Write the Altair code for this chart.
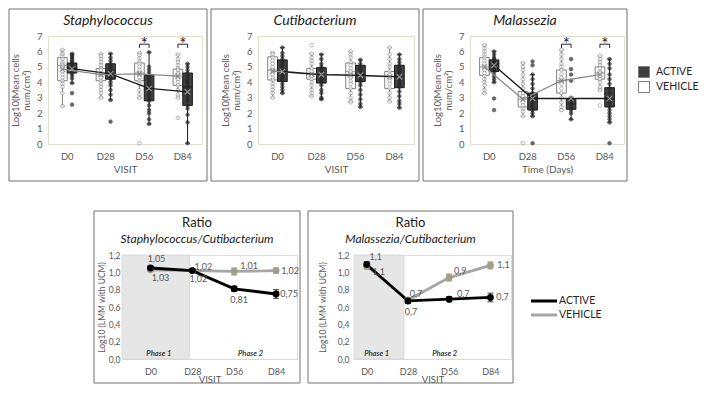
import json
import altair as alt
import pandas as pd

VISITS = ["D0", "D28", "D56", "D84"]
GROUPS = ["ACTIVE", "VEHICLE"]

# Box statistics per visit (D0, D28, D56, D84): (min, q1, median, q3, max, mean)
STAPH_VEHICLE_BOX = [(2.45, 4.1, 5.1, 5.6, 6.1, 4.85), (3.0, 4.1, 4.5, 4.9, 5.85, 4.5),
                     (3.0, 4.1, 4.6, 5.25, 5.9, 4.55), (3.0, 3.8, 4.4, 4.85, 5.8, 4.4)]
STAPH_ACTIVE_BOX = [(3.95, 4.6, 4.9, 5.25, 5.85, 4.88), (2.85, 4.2, 4.55, 5.2, 5.85, 4.55),
                    (1.3, 2.8, 3.6, 4.45, 5.95, 3.6), (0.05, 2.5, 3.7, 4.6, 5.2, 3.38)]
CUTI_VEHICLE_BOX = [(3.0, 4.15, 4.8, 5.65, 5.9, 4.72), (3.1, 4.2, 4.5, 4.9, 5.85, 4.52),
                    (2.7, 3.6, 4.7, 5.25, 6.0, 4.46), (2.75, 3.6, 4.4, 4.7, 6.25, 4.36)]
CUTI_ACTIVE_BOX = [(3.3, 4.05, 4.7, 5.45, 6.25, 4.7), (2.9, 3.95, 4.5, 4.95, 5.8, 4.5),
                   (2.4, 4.05, 4.5, 5.1, 5.45, 4.45), (2.35, 3.65, 4.4, 5.1, 5.8, 4.35)]
MALA_VEHICLE_BOX = [(3.3, 4.45, 5.0, 5.6, 6.4, 5.0), (1.8, 2.4, 2.9, 3.4, 5.25, 2.9),
                    (2.2, 3.3, 4.1, 4.8, 6.1, 4.1), (3.5, 4.2, 4.6, 5.0, 5.7, 4.5)]
MALA_ACTIVE_BOX = [(4.0, 4.7, 5.2, 5.45, 6.0, 5.1), (1.8, 2.2, 3.0, 3.3, 4.5, 2.95),
                   (1.6, 2.25, 2.6, 2.9, 3.0, 2.95), (1.4, 2.4, 2.9, 3.65, 5.5, 2.95)]

# Individual subject values per visit
STAPH_VEHICLE_POINTS = [
    [6.1, 5.9, 5.8, 5.65, 5.5, 5.3, 5.2, 5.1, 5.0, 4.9, 4.7, 4.5, 4.3, 4.1, 3.9, 3.7, 3.3, 2.45],
    [5.85, 5.7, 5.5, 5.3, 5.1, 4.9, 4.8, 4.6, 4.5, 4.3, 4.1, 3.9, 3.7, 3.5, 3.3, 3.0],
    [5.9, 5.75, 5.55, 5.35, 5.2, 5.0, 4.8, 4.6, 4.5, 4.3, 4.1, 3.9, 3.5, 3.2, 3.0, 0.05],
    [5.8, 5.5, 5.3, 5.1, 4.9, 4.8, 4.6, 4.5, 4.3, 4.2, 4.0, 3.8, 3.5, 3.2, 3.0, 1.7],
]
STAPH_ACTIVE_POINTS = [
    [5.85, 5.75, 5.65, 5.55, 5.45, 5.35, 5.25, 5.1, 5.0, 4.9, 4.8, 4.7, 4.6, 4.45, 4.25, 3.95, 3.3, 2.55],
    [5.85, 5.6, 5.4, 5.2, 5.0, 4.8, 4.7, 4.55, 4.4, 4.2, 4.0, 3.8, 3.5, 3.2, 2.85, 1.45],
    [5.95, 5.0, 4.8, 4.6, 4.4, 4.2, 4.0, 3.8, 3.6, 3.4, 3.2, 3.0, 2.8, 2.5, 2.2, 2.0, 1.6, 1.3],
    [5.2, 5.0, 4.8, 4.6, 4.4, 4.2, 4.0, 3.8, 3.6, 3.4, 3.2, 3.0, 2.8, 2.5, 2.3, 1.9, 1.4, 0.05],
]
CUTI_VEHICLE_POINTS = [
    [5.9, 5.8, 5.6, 5.4, 5.2, 5.0, 4.8, 4.7, 4.5, 4.3, 4.15, 3.9, 3.7, 3.5, 3.3, 3.0],
    [6.4, 5.85, 5.6, 5.4, 5.2, 4.9, 4.7, 4.5, 4.4, 4.2, 4.0, 3.8, 3.5, 3.3, 3.1],
    [6.0, 5.8, 5.6, 5.3, 5.1, 4.9, 4.7, 4.5, 4.3, 4.1, 3.9, 3.6, 3.3, 3.0, 2.8, 2.7],
    [6.25, 5.8, 5.5, 5.2, 5.0, 4.7, 4.5, 4.3, 4.1, 3.9, 3.6, 3.3, 3.0, 2.75],
]
CUTI_ACTIVE_POINTS = [
    [6.25, 5.9, 5.7, 5.5, 5.3, 5.1, 4.9, 4.7, 4.5, 4.3, 4.1, 3.9, 3.7, 3.5, 3.3],
    [5.8, 5.5, 5.2, 5.0, 4.8, 4.6, 4.4, 4.2, 4.0, 3.8, 3.5, 3.3, 3.0, 2.9],
    [5.45, 5.2, 5.0, 4.8, 4.6, 4.4, 4.2, 4.0, 3.8, 3.5, 3.2, 2.9, 2.6, 2.4],
    [5.8, 5.5, 5.3, 5.1, 4.9, 4.7, 4.5, 4.3, 4.1, 3.9, 3.7, 3.4, 3.1, 2.8, 2.6, 2.35],
]
MALA_VEHICLE_POINTS = [
    [6.4, 6.2, 6.0, 5.8, 5.6, 5.4, 5.2, 5.0, 4.8, 4.6, 4.4, 4.2, 4.0, 3.8, 3.5, 3.3],
    [5.25, 5.0, 4.8, 4.5, 4.2, 3.9, 3.6, 3.3, 3.1, 2.9, 2.7, 2.5, 2.3, 2.1, 1.8, 0.05],
    [6.1, 5.8, 5.5, 5.2, 5.0, 4.8, 4.5, 4.3, 4.1, 3.9, 3.6, 3.3, 3.0, 2.7, 2.4, 2.2],
    [5.7, 5.5, 5.3, 5.1, 4.9, 4.7, 4.6, 4.4, 4.2, 4.0, 3.7, 3.5, 2.5],
]
MALA_ACTIVE_POINTS = [
    [6.0, 5.8, 5.6, 5.5, 5.4, 5.3, 5.2, 5.1, 5.0, 4.9, 4.8, 4.6, 4.4, 4.2, 4.0, 2.95, 2.2],
    [5.35, 5.1, 4.5, 4.2, 3.9, 3.6, 3.3, 3.1, 3.0, 2.8, 2.6, 2.4, 2.2, 2.0, 1.8, 0.05],
    [5.5, 4.85, 4.5, 4.1, 3.0, 2.8, 2.6, 2.4, 2.2, 2.0, 1.6],
    [5.5, 5.2, 4.9, 4.5, 4.2, 3.9, 3.6, 3.3, 3.0, 2.8, 2.6, 2.4, 2.2, 2.0, 1.8, 1.6, 1.4, 0.05],
]
STAPH_SIGNIFICANT = ["D56", "D84"]
MALA_SIGNIFICANT = ["D56", "D84"]

# Ratio panels (LMM estimates with error)
RATIO_SC_ACTIVE = [1.05, 1.02, 0.81, 0.75]
RATIO_SC_ACTIVE_ERR = [0.02, 0.02, 0.03, 0.05]
RATIO_SC_VEHICLE = [1.03, 1.02, 1.01, 1.02]
RATIO_SC_VEHICLE_ERR = [0.02, 0.02, 0.04, 0.03]
RATIO_MC_ACTIVE = [1.09, 0.67, 0.69, 0.71]
RATIO_MC_ACTIVE_ERR = [0.03, 0.03, 0.03, 0.05]
RATIO_MC_VEHICLE = [1.07, 0.68, 0.94, 1.08]
RATIO_MC_VEHICLE_ERR = [0.03, 0.02, 0.04, 0.04]

FONT = "Lato"
TXT = "#595959"
DARK = "#262626"
FRAME_COLOR = "#707070"
PLOT_BORDER = "#e2dece"
ACT_FILL = "#404040"
ACT_LINE = "#1a1a1a"
VEH_LINE = "#808080"
TOP_H = 108
BOT_H = 104
X_SHAPE = "M-1,-1L1,1M-1,1L1,-1"
ONE = pd.DataFrame({"f": [0]})


def top_legend(show, x=0, y=0):
    if not show:
        return None
    return alt.Legend(title=None, orient="none", legendX=x, legendY=y, padding=0, symbolType="square",
                      symbolSize=121, symbolStrokeColor="#7f7f7f", symbolStrokeWidth=1, symbolOffset=0,
                      labelFont=FONT, labelFontSize=10.5, labelColor=DARK, rowPadding=-1, labelOffset=6)


def bottom_legend(show, x=0, y=0):
    if not show:
        return None
    return alt.Legend(title=None, orient="none", legendX=x, legendY=y, padding=0, symbolType="M-2,0H2",
                      symbolSize=169, symbolStrokeWidth=3, symbolOffset=0, labelFont=FONT, labelFontSize=10.5,
                      labelColor=DARK, rowPadding=-3, labelOffset=7)


def cond(active_val, vehicle_val):
    return alt.condition(alt.datum.group == "ACTIVE", alt.value(active_val), alt.value(vehicle_val))


def frame_layer(x0, x1, y0, y1):
    return alt.Chart(ONE).mark_rect(
        fill="transparent", stroke=FRAME_COLOR, strokeWidth=1
    ).encode(x=alt.value(x0), x2=alt.value(x1), y=alt.value(y0), y2=alt.value(y1))


def title_layer(text, cx, cy, size, italic):
    return alt.Chart(ONE).mark_text(
        text=text, fontSize=size, fontStyle="italic" if italic else "normal", font=FONT, color="#1a1a1a",
        align="center", baseline="middle"
    ).encode(x=alt.value(cx), y=alt.value(cy))


def box_table(active, vehicle):
    rows = []
    for group, stats in (("VEHICLE", vehicle), ("ACTIVE", active)):
        for visit, (lo, q1, med, q3, hi, mean) in zip(VISITS, stats):
            rows.append({"visit": visit, "group": group, "lo": lo, "q1": q1, "med": med,
                         "q3": q3, "hi": hi, "mean": mean})
    return pd.DataFrame(rows)


def point_table(active, vehicle):
    rows = []
    for group, lists in (("VEHICLE", vehicle), ("ACTIVE", active)):
        for visit, values in zip(VISITS, lists):
            for v in values:
                rows.append({"visit": visit, "group": group, "value": v})
    return pd.DataFrame(rows)


def box_panel(title, active_box, vehicle_box, active_pts, vehicle_pts, sig_visits, x_title,
              width, frame_left, frame_right, legend):
    boxes = box_table(active_box, vehicle_box)
    pts = point_table(active_pts, vehicle_pts)
    x_axis = alt.Axis(title=x_title, labelAngle=0, ticks=False, domain=False, labelColor=TXT,
                      labelFontSize=9.5, labelPadding=7, titleColor=TXT, titleFontSize=10,
                      titleFontWeight="normal", titlePadding=4)
    x_enc = alt.X("visit:N", scale=alt.Scale(domain=VISITS, paddingInner=0, paddingOuter=0), axis=x_axis)
    xo = alt.XOffset("group:N", scale=alt.Scale(domain=["VEHICLE", "ACTIVE"], paddingInner=0, paddingOuter=1))
    y_scale = alt.Scale(domain=[0, 7], nice=False, zero=False)
    y_axis = alt.Axis(title=["Log10(Mean cells", "num/cm²)"], values=list(range(8)), ticks=False,
                      domain=False, grid=False, labelColor=TXT, labelFontSize=9.5, labelPadding=6,
                      titleColor=TXT, titleFontSize=9.5, titleFontWeight="normal", titlePadding=5,
                      titleLineHeight=10.5)

    def Y(field):
        return alt.Y(f"{field}:Q", scale=y_scale, axis=y_axis)

    b = alt.Chart(boxes)
    whisker = b.mark_rule(strokeWidth=1).encode(x=x_enc, xOffset=xo, y=Y("lo"), y2="hi",
                                                 stroke=cond(ACT_LINE, VEH_LINE))
    box = b.mark_bar(strokeWidth=1).encode(
        x=x_enc, xOffset=xo, y=Y("q1"), y2="q3",
        fill=alt.Fill("group:N", scale=alt.Scale(domain=GROUPS, range=[ACT_FILL, "#ffffff"]), legend=legend),
        stroke=cond(ACT_LINE, VEH_LINE))
    cap_lo = b.mark_tick(size=5, thickness=1).encode(x=x_enc, xOffset=xo, y=Y("lo"), color=cond(ACT_LINE, VEH_LINE))
    cap_hi = b.mark_tick(size=5, thickness=1).encode(x=x_enc, xOffset=xo, y=Y("hi"), color=cond(ACT_LINE, VEH_LINE))
    median = b.mark_tick(size=10, thickness=1.2).encode(x=x_enc, xOffset=xo, y=Y("med"), color=cond(ACT_LINE, VEH_LINE))
    points = alt.Chart(pts).mark_point(shape="circle", filled=True, size=13, strokeWidth=0.8).encode(
        x=x_enc, xOffset=xo, y=Y("value"), fill=cond(DARK, "#ffffff"), stroke=cond(DARK, "#7f7f7f"))
    mean_line = b.mark_line(strokeWidth=1.3).encode(x=x_enc, xOffset=xo, y=Y("mean"), detail="group:N",
                                                     stroke=cond(ACT_LINE, "#8c8c8c"))
    mean_pt = b.mark_point(shape=X_SHAPE, size=28, strokeWidth=1.2, filled=False).encode(
        x=x_enc, xOffset=xo, y=Y("mean"), stroke=cond("#bfbfbf", "#7f7f7f"))
    frame_w = frame_left + width + frame_right
    layers = [frame_layer(-frame_left, width + frame_right, -27, TOP_H + 37),
              title_layer(title, -frame_left + frame_w / 2, -15, 14, True),
              whisker, box, cap_lo, cap_hi, median, points, mean_line, mean_pt]
    if sig_visits:
        br_rows = []
        for v in sig_visits:
            for step, (g, yv) in enumerate([("VEHICLE", 6.23), ("VEHICLE", 6.47), ("ACTIVE", 6.47), ("ACTIVE", 6.23)]):
                br_rows.append({"visit": v, "group": g, "y": yv, "step": step})
        bracket = alt.Chart(pd.DataFrame(br_rows)).mark_line(color=DARK, stroke=DARK, strokeWidth=1).encode(
            x=x_enc, xOffset=xo, y=Y("y"), detail="visit:N", order="step:Q")
        star = alt.Chart(pd.DataFrame({"visit": sig_visits})).mark_text(
            text="*", fontSize=17, color=DARK, fill=DARK, baseline="alphabetic", font=FONT).encode(
            x=x_enc, y=alt.YDatum(6.1, type="quantitative", scale=y_scale, axis=y_axis))
        layers += [bracket, star]
    return alt.layer(*layers).properties(width=width, height=TOP_H)


def ratio_panel(subtitle, active, active_err, vehicle, vehicle_err, decimals, x_min, phase_end,
                phase_pos, width, frame_left, frame_right, y_label_pad, y_title_pad, placements, legend):
    rows = []
    for group, vals, errs in (("VEHICLE", vehicle, vehicle_err), ("ACTIVE", active, active_err)):
        for i, (visit, v, e) in enumerate(zip(VISITS, vals, errs)):
            rows.append({"idx": i, "visit": visit, "group": group, "value": v, "lo": v - e, "hi": v + e})
    df = pd.DataFrame(rows)
    x_scale = alt.Scale(domain=[x_min, 3.5], nice=False, zero=False)
    x_axis = alt.Axis(title="VISIT", values=list(range(len(VISITS))), labelExpr=f"{json.dumps(VISITS)}[datum.value]",
                      grid=False, ticks=False, domainColor="#d9d9d9", labelColor=TXT, labelFontSize=9,
                      labelPadding=8, titleColor=TXT, titleFontSize=9.5, titleFontWeight="normal",
                      titleY=23, titleBaseline="alphabetic")
    x_enc = alt.X("idx:Q", scale=x_scale, axis=x_axis)
    y_scale = alt.Scale(domain=[0, 1.2], nice=False, zero=False)
    y_axis = alt.Axis(title="Log10 (LMM with UCM)", values=[0, 0.2, 0.4, 0.6, 0.8, 1.0, 1.2],
                      labelExpr="replace(format(datum.value, '.1f'), '.', ',')", ticks=False, domain=False,
                      grid=False, labelColor=TXT, labelFontSize=8.5, labelPadding=y_label_pad, titleColor=TXT,
                      titleFontSize=8.5, titleFontWeight="normal", titlePadding=y_title_pad)

    def Y(field):
        return alt.Y(f"{field}:Q", scale=y_scale, axis=y_axis)

    shade = alt.Chart(ONE).mark_rect(fill="#e6e6e6", stroke="#d4d4d4", strokeWidth=0.8).encode(
        x=alt.XDatum(x_min, type="quantitative", scale=x_scale, axis=x_axis),
        x2=alt.X2Datum(phase_end), y=alt.value(0), y2=alt.value(BOT_H))
    phase_layers = []
    for name, pos in zip(["Phase 1", "Phase 2"], phase_pos):
        phase_layers.append(alt.Chart(ONE).mark_text(
            text=name, fontSize=7.5, fontStyle="italic", fontWeight="bold", color="#404040", font=FONT,
            baseline="middle").encode(x=alt.XDatum(pos, type="quantitative", scale=x_scale, axis=x_axis),
                                      y=alt.value(BOT_H - 5)))
    base = alt.Chart(df)
    line = base.mark_line(strokeWidth=2.8).encode(
        x=x_enc, y=Y("value"),
        stroke=alt.Stroke("group:N", scale=alt.Scale(domain=GROUPS, range=["#000000", "#a6a6a6"]),
                          legend=legend))
    line_v = line.transform_filter(alt.datum.group == "VEHICLE")
    line_a = line.transform_filter(alt.datum.group == "ACTIVE")
    err = base.mark_rule(strokeWidth=1).encode(x=x_enc, y=Y("lo"), y2="hi", stroke=cond("#000000", "#595959"))
    cap_lo = base.mark_tick(orient="horizontal", size=6, thickness=1).encode(x=x_enc, y=Y("lo"), color=cond("#000000", "#595959"))
    cap_hi = base.mark_tick(orient="horizontal", size=6, thickness=1).encode(x=x_enc, y=Y("hi"), color=cond("#000000", "#595959"))
    dots = base.mark_circle(size=48, opacity=1).encode(x=x_enc, y=Y("value"), fill=cond("#000000", "#a39e83"))
    fmt = f".{decimals}f"
    labels = []
    for (group, visit), (dx, dy) in placements.items():
        labels.append(base.transform_filter(
            (alt.datum.group == group) & (alt.datum.visit == visit)
        ).transform_calculate(
            label=f"replace(format(datum.value, '{fmt}'), '.', ',')"
        ).mark_text(fontSize=9, color=TXT, font=FONT, align="center", baseline="middle", dx=dx, dy=dy).encode(
            x=x_enc, y=Y("value"), text="label:N"))
    frame_w = frame_left + width + frame_right
    cx = -frame_left + frame_w / 2
    layers = [frame_layer(-frame_left, width + frame_right, -44, BOT_H + 24),
              title_layer("Ratio", cx, -32, 13, False),
              title_layer(subtitle, cx, -16, 12, True), shade] + phase_layers + \
             [line_v, line_a, err, cap_lo, cap_hi, dots] + labels
    return alt.layer(*layers).properties(width=width, height=BOT_H)


def spacer(width):
    return alt.Chart(ONE).mark_point(opacity=0).properties(
        width=width, height=10, view=alt.ViewBackground(stroke="transparent"))


p1 = box_panel("Staphylococcus", STAPH_ACTIVE_BOX, STAPH_VEHICLE_BOX, STAPH_ACTIVE_POINTS, STAPH_VEHICLE_POINTS,
               STAPH_SIGNIFICANT, "VISIT", 154, 39, 5, top_legend(False))
p2 = box_panel("Cutibacterium", CUTI_ACTIVE_BOX, CUTI_VEHICLE_BOX, CUTI_ACTIVE_POINTS, CUTI_VEHICLE_POINTS,
               [], "VISIT", 156, 47, 5, top_legend(False))
p3 = box_panel("Malassezia", MALA_ACTIVE_BOX, MALA_VEHICLE_BOX, MALA_ACTIVE_POINTS, MALA_VEHICLE_POINTS,
               MALA_SIGNIFICANT, "Time (Days)", 154, 47, 3, top_legend(True, 168, 30))

p4 = ratio_panel("Staphylococcus/Cutibacterium", RATIO_SC_ACTIVE, RATIO_SC_ACTIVE_ERR, RATIO_SC_VEHICLE,
                 RATIO_SC_VEHICLE_ERR, 2, -0.68, 0.93, [0.2, 2.39], 175, 28, 3, 2, 2,
                 {("ACTIVE", "D0"): (6, -9), ("VEHICLE", "D0"): (10, 8), ("ACTIVE", "D28"): (6, 8),
                  ("VEHICLE", "D28"): (11, -4), ("VEHICLE", "D56"): (15, -5), ("ACTIVE", "D56"): (5, 11),
                  ("VEHICLE", "D84"): (14, 0), ("ACTIVE", "D84"): (13, 0)}, bottom_legend(False))
p5 = ratio_panel("Malassezia/Cutibacterium", RATIO_MC_ACTIVE, RATIO_MC_ACTIVE_ERR, RATIO_MC_VEHICLE,
                 RATIO_MC_VEHICLE_ERR, 1, -0.31, 0.9, [0.24, 1.89], 157, 46, 2, 5, 10,
                 {("ACTIVE", "D0"): (9, -8), ("VEHICLE", "D0"): (12, 6), ("VEHICLE", "D28"): (8, -6),
                  ("ACTIVE", "D28"): (3, 11), ("VEHICLE", "D56"): (11, -7), ("ACTIVE", "D56"): (14, -5),
                  ("VEHICLE", "D84"): (13, 0), ("ACTIVE", "D84"): (12, 0)}, bottom_legend(True, 182, 38))

# bounds="flush": cells are laid out by their plot areas, spacing is the gap between plot areas
top = alt.hconcat(p1, p2, p3, spacing=56, bounds="flush").resolve_scale(
    xOffset="independent", fill="independent").resolve_legend(fill="independent")
bottom = alt.hconcat(spacer(17), p4, p5, spacer(56), spacing=57, bounds="flush").resolve_scale(
    stroke="independent").resolve_legend(stroke="independent")

chart = alt.vconcat(top, bottom, spacing=219, bounds="flush").resolve_scale(
    fill="independent", stroke="independent").resolve_legend(
    fill="independent", stroke="independent").properties(padding=0).configure(font=FONT).configure_view(
    stroke=PLOT_BORDER, strokeWidth=1).configure_axis(labelFont=FONT, titleFont=FONT)

chart.save("out.html", embed_options={"renderer": "svg", "actions": False})
